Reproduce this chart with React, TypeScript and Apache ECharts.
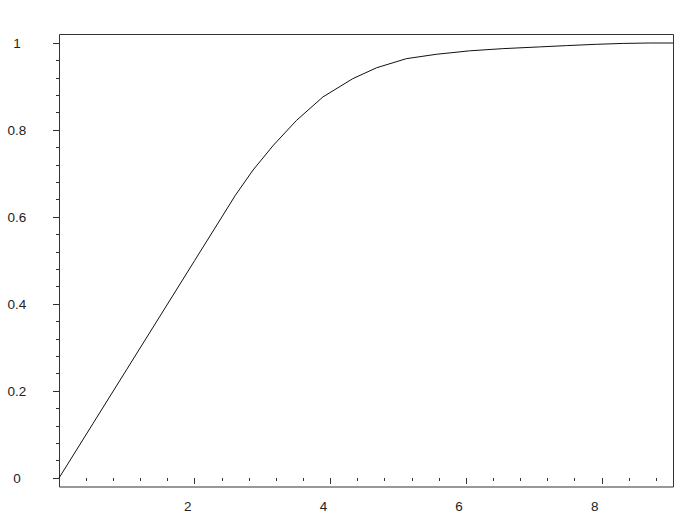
import React, { useEffect, useRef } from "react";
import * as echarts from "echarts";

const xValues = [0, 0.5, 1, 1.5, 2, 2.4, 2.6, 2.86, 3.16, 3.5, 3.89, 4.33, 4.68, 5.12, 5.56, 6.05, 6.54, 7.08, 7.48, 7.92, 8.31, 8.7, 9.05];
const yValues = [0, 0.125, 0.25, 0.375, 0.5, 0.6, 0.65, 0.708, 0.765, 0.822, 0.876, 0.918, 0.943, 0.964, 0.974, 0.982, 0.987, 0.991, 0.994, 0.997, 0.999, 1.0, 1.0];
const xMajorTicks = [2, 4, 6, 8];
const yMajorTicks = [0, 0.2, 0.4, 0.6, 0.8, 1];

export default function App() {
  const ref = useRef<HTMLDivElement>(null);
  useEffect(() => {
    if (!ref.current) return;
    const chart = echarts.init(ref.current, undefined, { renderer: "svg" });
    const font = { fontFamily: "Liberation Sans, Arial, sans-serif", fontSize: 13.5, color: "#222" };
    const xMax = 9.05;
    chart.setOption({
      animation: false,
      backgroundColor: "#ffffff",
      grid: { left: 59, right: 25, top: 43, bottom: 37 },
      xAxis: [
        {
          type: "value",
          min: 0,
          max: xMax,
          interval: 2,
          position: "bottom",
          offset: 9,
          axisLine: { show: false },
          axisTick: { show: true, length: 6, lineStyle: { color: "#333", width: 1 } },
          axisLabel: {
            ...font,
            margin: 12,
            showMinLabel: false,
            showMaxLabel: false,
            padding: [0, 14, 0, 0],
            formatter: (v: number) => (xMajorTicks.includes(v) ? String(v) : ""),
          },
          splitLine: { show: false },
        },
        {
          type: "value",
          min: 0,
          max: xMax,
          interval: 0.4,
          position: "bottom",
          offset: 9,
          axisLine: { show: false },
          axisTick: { show: true, length: 3, lineStyle: { color: "#333", width: 1 } },
          axisLabel: { show: false },
          splitLine: { show: false },
        },
      ],
      yAxis: [
        {
          type: "value",
          min: 0,
          max: 1,
          interval: 0.2,
          position: "left",
          axisLine: { show: false },
          axisTick: { show: true, length: 6, lineStyle: { color: "#333", width: 1 } },
          axisLabel: {
            ...font,
            margin: 42,
            align: "center",
            formatter: (v: number) => {
              const r = Math.round(v * 10) / 10;
              return yMajorTicks.includes(r) ? String(r) : "";
            },
          },
          splitLine: { show: false },
        },
        {
          type: "value",
          min: 0,
          max: 1,
          interval: 0.04,
          position: "left",
          axisLine: { show: false },
          axisTick: { show: true, length: 3, lineStyle: { color: "#333", width: 1 } },
          axisLabel: { show: false },
          splitLine: { show: false },
        },
      ],
      graphic: [
        {
          type: "rect",
          shape: { x: 59.5, y: 34.5, width: 614, height: 452.5 },
          style: { fill: "none", stroke: "#333", lineWidth: 1 },
          silent: true,
        },
      ],
      series: [
        {
          type: "line",
          xAxisIndex: 0,
          yAxisIndex: 0,
          data: xValues.map((x, i) => [x, yValues[i]]),
          showSymbol: false,
          clip: false,
          lineStyle: { color: "#111", width: 1 },
        },
      ],
    });
    return () => chart.dispose();
  }, []);
  return (
    <div
      ref={ref}
      style={{ position: "fixed", left: 0, top: 0, width: 698, height: 515, background: "#fff" }}
    />
  );
}
